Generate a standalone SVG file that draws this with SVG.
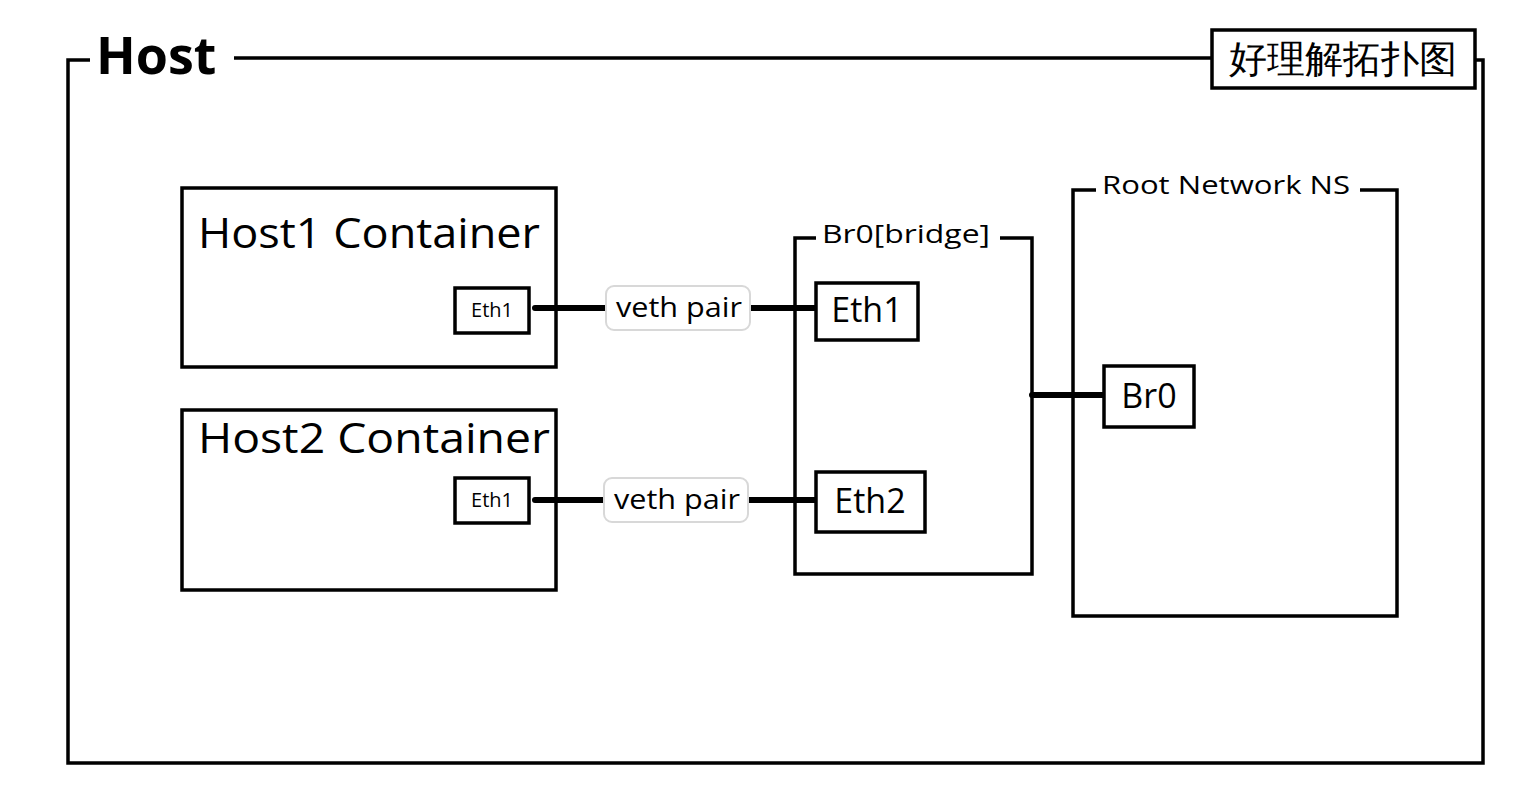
<svg xmlns="http://www.w3.org/2000/svg" width="1536" height="806" viewBox="0 0 1536 806">
<style>
.b{fill:#fff;stroke:#000;stroke-width:3.5}
.l{fill:none;stroke:#000;stroke-width:3.5}
.t{font-family:"Open Sans","Liberation Sans",sans-serif;fill:#000}
.c{stroke:#000;stroke-width:6;fill:none;stroke-linecap:round}
.v{fill:#fff;stroke:#d8d8d8;stroke-width:2}
</style>
<rect width="1536" height="806" fill="#fff"/>
<g id="host">
<path class="l" d="M90 60 H68 V763 H1483 V60 H1476 M1212 58 H234"/>
<text class="t" x="96" y="74" font-size="52" font-weight="bold">Host</text>
<rect class="b" x="1212" y="30" width="263" height="58"/>
<text class="t" x="1343" y="72" font-size="38" text-anchor="middle" font-family="Noto Sans CJK SC,sans-serif">好理解拓扑图</text>
</g>
<g id="host1">
<rect class="b" x="182" y="188" width="374" height="179"/>
<text class="t" x="198" y="248" font-size="42" textLength="342" lengthAdjust="spacingAndGlyphs">Host1 Container</text>
<rect class="b" x="455" y="288" width="74" height="45"/>
<text class="t" x="492" y="317" font-size="20" text-anchor="middle">Eth1</text>
</g>
<g id="host2">
<rect class="b" x="182" y="410" width="374" height="180"/>
<text class="t" x="198" y="453" font-size="42" textLength="352" lengthAdjust="spacingAndGlyphs">Host2 Container</text>
<rect class="b" x="455" y="478" width="74" height="45"/>
<text class="t" x="492" y="507" font-size="20" text-anchor="middle">Eth1</text>
</g>
<g id="connectors">
<path class="c" d="M535 308 H815 M535 500 H815 M1032 395 H1104"/>
<rect class="v" x="606" y="286" width="144" height="44" rx="8"/>
<text class="t" x="616" y="317" font-size="27" textLength="126" lengthAdjust="spacingAndGlyphs">veth pair</text>
<rect class="v" x="604" y="478" width="144" height="44" rx="8"/>
<text class="t" x="614" y="509" font-size="27" textLength="126" lengthAdjust="spacingAndGlyphs">veth pair</text>
</g>
<g id="bridge">
<path class="l" d="M816 238 H795 V574 H1032 V238 H1000"/>
<text class="t" x="822" y="243" font-size="25" textLength="168" lengthAdjust="spacingAndGlyphs">Br0[bridge]</text>
<rect class="b" x="816" y="283" width="102" height="57"/>
<text class="t" x="867" y="322" font-size="34" text-anchor="middle">Eth1</text>
<rect class="b" x="816" y="472" width="109" height="60"/>
<text class="t" x="870" y="513" font-size="34" text-anchor="middle">Eth2</text>
</g>
<g id="root">
<path class="l" d="M1096 190 H1073 V616 H1397 V190 H1360"/>
<text class="t" x="1102" y="194" font-size="25" textLength="248" lengthAdjust="spacingAndGlyphs">Root Network NS</text>
<rect class="b" x="1104" y="366" width="90" height="61"/>
<text class="t" x="1149" y="408" font-size="34" text-anchor="middle">Br0</text>
</g>
</svg>
